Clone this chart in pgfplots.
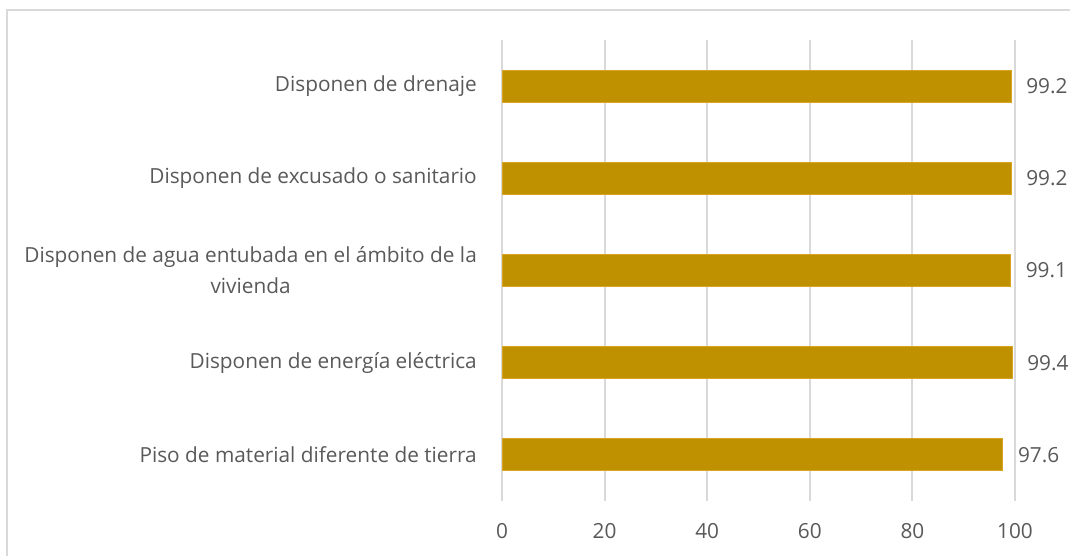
\documentclass[border=0pt]{standalone}
\usepackage{pgfplots}
\pgfplotsset{compat=1.18}
\usepackage{fontspec}
\setmainfont{Open Sans}
\definecolor{barc}{HTML}{BF9000}
\definecolor{barl}{HTML}{D9A520}
\definecolor{txt}{HTML}{595959}
\definecolor{gridc}{HTML}{D9D9D9}
\begin{document}
\begin{tikzpicture}[x=1pt,y=1pt]
\useasboundingbox (0,0) rectangle (1070,556);
\draw[gridc, line width=1.8pt] (7,-5) -- (7,546) -- (1075,546);
\begin{axis}[
  at={(502pt,55pt)}, anchor=south west,
  scale only axis, width=513pt, height=461pt,
  xbar, bar width=32pt,
  xmin=0, xmax=100, ymin=-0.5, ymax=4.5,
  xtick={0,20,40,60,80,100},
  ytick={0,1,2,3,4},
  yticklabels={Piso de material diferente de tierra, Disponen de energía eléctrica, {Disponen de agua entubada en el ámbito de la\\vivienda}, Disponen de excusado o sanitario, Disponen de drenaje},
  axis line style={draw=none},
  major tick length=0pt,
  xmajorgrids, grid style={gridc, line width=1.9pt},
  /pgf/number format/assume math mode=true,
  tick label style={font=\fontsize{20.8}{31}\selectfont, text=txt},
  yticklabel style={align=center, inner sep=0pt, xshift=-25pt},
  xticklabel style={inner sep=0pt, yshift=-22pt},
  nodes near coords,
  every node near coord/.append style={font=\fontsize{20.8}{31}\selectfont, text=txt, anchor=west, inner sep=0pt, xshift=15pt},
]
\addplot[fill=barc, draw=barl, line width=0.8pt] coordinates {(97.6,0) (99.4,1) (99.1,2) (99.2,3) (99.2,4)};
\end{axis}
\end{tikzpicture}
\end{document}
